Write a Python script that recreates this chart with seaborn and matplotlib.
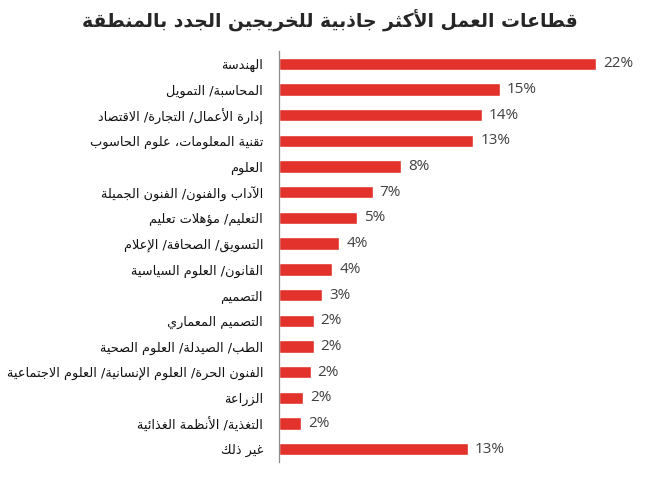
import matplotlib
matplotlib.use('Agg')
import matplotlib.pyplot as plt
import seaborn as sns
import pandas as pd

# data
title = 'قطاعات العمل الأكثر جاذبية للخريجين الجدد بالمنطقة'
sectors = [
    'الهندسة',
    'المحاسبة/ التمويل',
    'إدارة الأعمال/ التجارة/ الاقتصاد',
    'تقنية المعلومات، علوم الحاسوب',
    'العلوم',
    'الآداب والفنون/ الفنون الجميلة',
    'التعليم/ مؤهلات تعليم',
    'التسويق/ الصحافة/ الإعلام',
    'القانون/ العلوم السياسية',
    'التصميم',
    'التصميم المعماري',
    'الطب/ الصيدلة/ العلوم الصحية',
    'الفنون الحرة/ العلوم الإنسانية/ العلوم الاجتماعية',
    'الزراعة',
    'التغذية/ الأنظمة الغذائية',
    'غير ذلك',
]
shares = [22.0, 15.35, 14.1, 13.5, 8.5, 6.5, 5.4, 4.2, 3.7, 3.0,
          2.4, 2.4, 2.2, 1.7, 1.55, 13.1]
share_labels = ['22%', '15%', '14%', '13%', '8%', '7%', '5%', '4%', '4%', '3%',
                '2%', '2%', '2%', '2%', '2%', '13%']


# matplotlib has no arabic shaping, so map letters to their joined forms
# and reverse the string for right-to-left display
RIGHT_JOIN = {'آ': 0xFE81, 'أ': 0xFE83, 'ؤ': 0xFE85, 'إ': 0xFE87, 'ا': 0xFE8D,
              'ة': 0xFE93, 'د': 0xFEA9, 'ذ': 0xFEAB, 'ر': 0xFEAD, 'ز': 0xFEAF,
              'و': 0xFEED, 'ى': 0xFEEF}
DUAL = {'ئ': 0xFE89, 'ب': 0xFE8F, 'ت': 0xFE95, 'ث': 0xFE99, 'ج': 0xFE9D,
        'ح': 0xFEA1, 'خ': 0xFEA5, 'س': 0xFEB1, 'ش': 0xFEB5, 'ص': 0xFEB9,
        'ض': 0xFEBD, 'ط': 0xFEC1, 'ظ': 0xFEC5, 'ع': 0xFEC9, 'غ': 0xFECD,
        'ف': 0xFED1, 'ق': 0xFED5, 'ك': 0xFED9, 'ل': 0xFEDD, 'م': 0xFEE1,
        'ن': 0xFEE5, 'ه': 0xFEE9, 'ي': 0xFEF1}
LAM_ALEF = {'آ': 0xFEF5, 'أ': 0xFEF7, 'إ': 0xFEF9, 'ا': 0xFEFB}


def shape(text):
    out = []
    i = 0
    n = len(text)
    while i < n:
        c = text[i]
        prev = text[i - 1] if i > 0 else ''
        nxt = text[i + 1] if i + 1 < n else ''
        if c == 'ل' and nxt in LAM_ALEF:
            out.append(chr(LAM_ALEF[nxt] + (1 if prev in DUAL else 0)))
            i += 2
            continue
        if c in DUAL:
            p = prev in DUAL
            q = nxt in DUAL or nxt in RIGHT_JOIN
            off = 3 if (p and q) else 2 if q else 1 if p else 0
            out.append(chr(DUAL[c] + off))
        elif c in RIGHT_JOIN:
            out.append(chr(RIGHT_JOIN[c] + (1 if prev in DUAL else 0)))
        else:
            out.append(c)
        i += 1
    return ''.join(out)[::-1]


sns.set_style('white')
plt.rcParams['font.family'] = ['DejaVu Sans']

df = pd.DataFrame({'sector': [shape(s) for s in sectors], 'share': shares})

fig = plt.figure(figsize=(6.51, 5), dpi=100)
ax = fig.add_axes([0.4286, 0.076, 0.553, 0.822])

sns.barplot(data=df, x='share', y='sector', orient='h', color='#E2322B',
            saturation=1, width=0.48, ax=ax)
ax.bar_label(ax.containers[0], labels=share_labels, padding=5,
             fontsize=11, color='#404040', family=['Open Sans', 'DejaVu Sans'])

ax.set_xlim(0, 25)
ax.set_ylim(15.5, -0.5)
ax.set_xlabel('')
ax.set_ylabel('')
ax.set_xticks([])
for side in ['top', 'right', 'bottom']:
    ax.spines[side].set_visible(False)
ax.spines['left'].set_color('#8C8C8C')
ax.spines['left'].set_linewidth(0.9)

# tick marks between categories, labels centred on bars
ax.set_yticks([i - 0.5 for i in range(17)], minor=True)
ax.tick_params(axis='y', which='minor', length=5, color='#8C8C8C', width=0.9)
ax.tick_params(axis='y', which='major', length=0, pad=11.5, labelsize=9.3,
               labelcolor='#111111')

fig.text(0.507, 0.958, shape(title), ha='center', va='center',
         fontsize=13.5, weight='bold', color='#262626')

fig.savefig('out.png', dpi=100)
